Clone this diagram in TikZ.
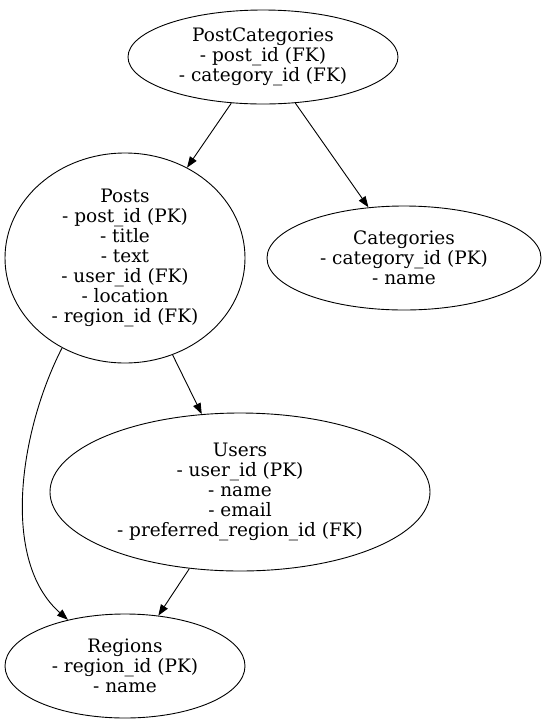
\documentclass[tikz,border=0pt]{standalone}
\usepackage{fontspec}
\setmainfont{DejaVu Serif}
\usetikzlibrary{shapes.geometric,arrows.meta}
\begin{document}
\begin{tikzpicture}[x=1pt,y=-1pt,
  ent/.style={draw, ellipse, inner sep=0pt, line width=0.9pt, align=center,
    font=\fontsize{18.5}{20}\selectfont},
  edge/.style={line width=0.9pt, -{Triangle[length=11pt,width=8pt]}}]
\useasboundingbox (0,0) rectangle (544,724);
\node[ent, minimum width=270pt, minimum height=94pt] (pc) at (263,57)
  {PostCategories\\- post\_id (FK)\\- category\_id (FK)};
\node[ent, minimum width=240pt, minimum height=210pt] (posts) at (125,258)
  {Posts\\- post\_id (PK)\\- title\\- text\\- user\_id (FK)\\- location\\- region\_id (FK)};
\node[ent, minimum width=274pt, minimum height=104pt] (cat) at (404,258)
  {Categories\\- category\_id (PK)\\- name};
\node[ent, minimum width=380pt, minimum height=158pt] (users) at (240,492)
  {Users\\- user\_id (PK)\\- name\\- email\\- preferred\_region\_id (FK)};
\node[ent, minimum width=240pt, minimum height=104pt] (reg) at (125,666)
  {Regions\\- region\_id (PK)\\- name};
\draw[edge] (pc) -- (posts);
\draw[edge] (pc) -- (cat);
\draw[edge] (posts) -- (users);
\draw[edge] (users) -- (reg);
\draw[edge] (posts.235.6) .. controls (20,430) and (0,560) .. (reg.141);
\end{tikzpicture}
\end{document}
